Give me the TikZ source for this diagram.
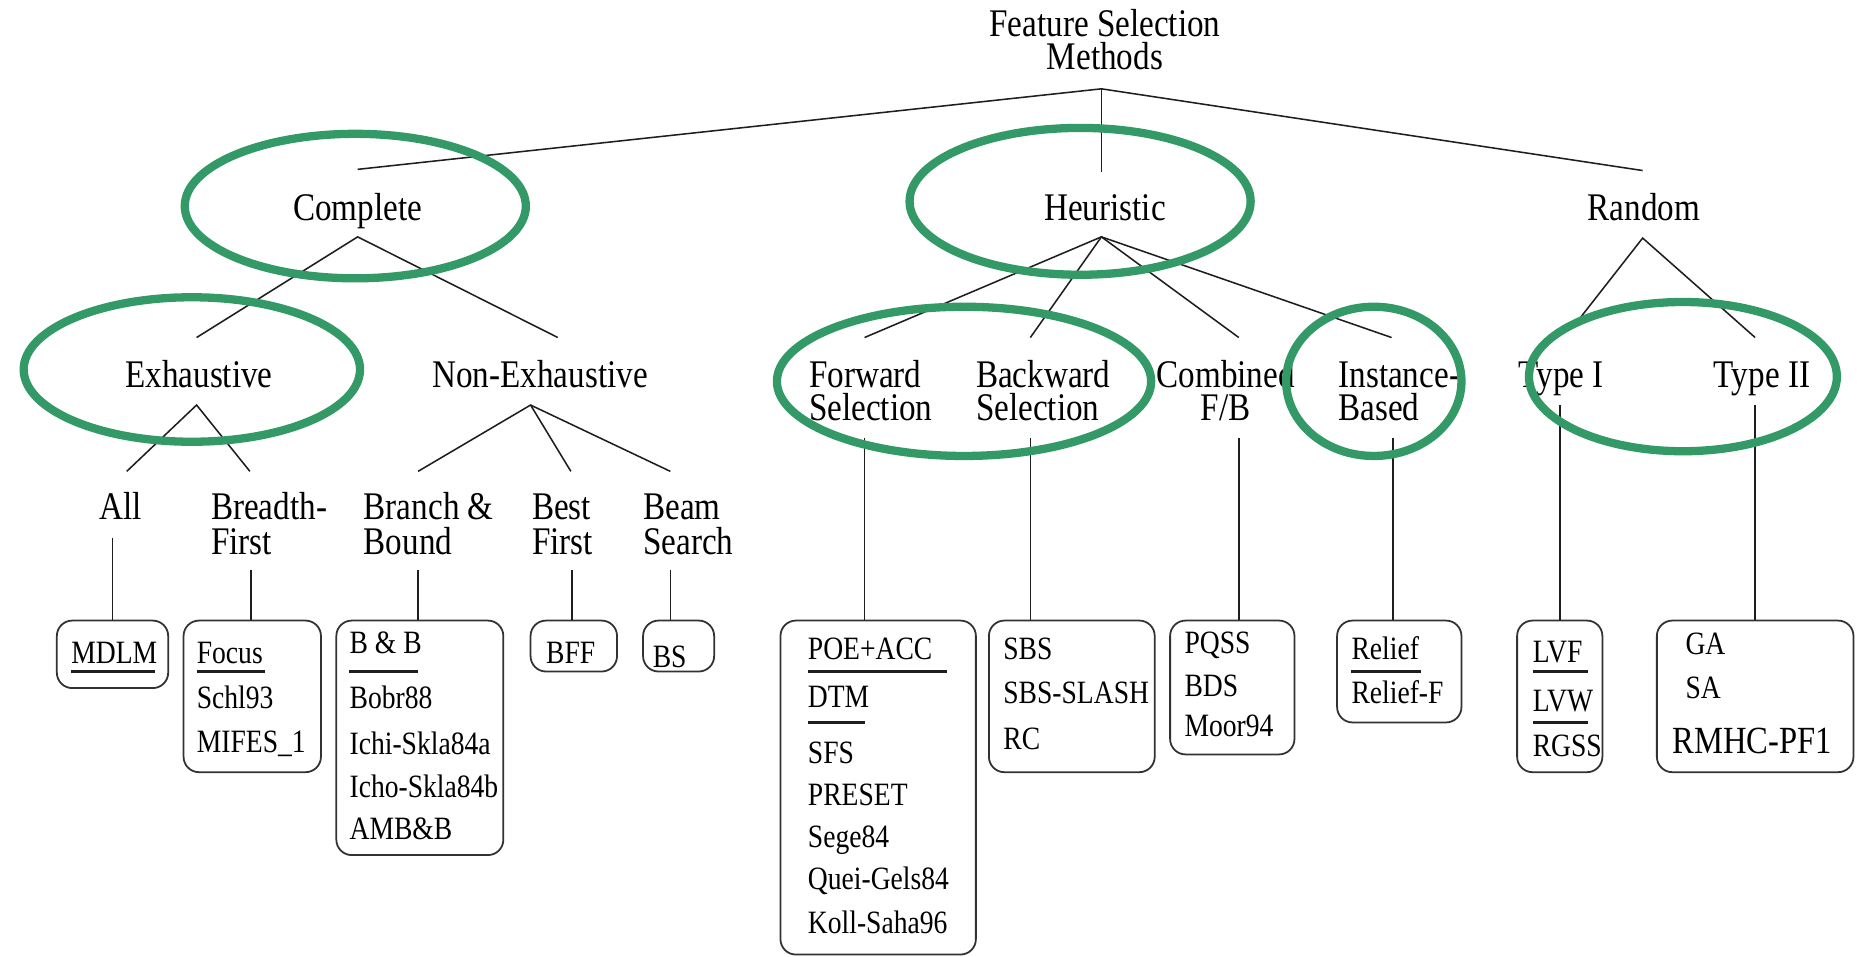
\documentclass[tikz,border=0pt]{standalone}
\usepackage{fontspec}
\setmainfont{Liberation Serif}
\usepackage{graphicx}
\definecolor{hlgreen}{RGB}{51,153,102}
\definecolor{linec}{RGB}{30,30,30}
\definecolor{boxc}{RGB}{50,50,50}
\newcommand{\sy}[1]{\scalebox{1}[1.18]{#1}}
\begin{document}
\begin{tikzpicture}[x=1pt,y=-1pt,
  lbl/.style={inner sep=0pt, font=\fontsize{28}{29}\selectfont, text=black},
  btxt/.style={inner sep=0pt, font=\fontsize{23.3}{25}\selectfont, text=black, anchor=base west},
  bigtxt/.style={inner sep=0pt, font=\fontsize{27.5}{29}\selectfont, text=black, anchor=base west},
  box/.style={draw=boxc, line width=1.5pt, rounded corners=13pt, inner sep=0pt},
  conn/.style={draw=linec, line width=1.3pt},
  uline/.style={draw=linec, line width=2.2pt},
  hl/.style={draw=hlgreen, line width=7pt}]
\useasboundingbox (0,0) rectangle (1568,808);

% ---------- labels ----------
\node[lbl, anchor=base] (root1) at (933,30.5) {\sy{Feature Selection}};
\node[lbl, anchor=base] (root2) at (933,59) {\sy{Methods}};
\node[lbl, anchor=base] (complete) at (302,186) {\sy{Complete}};
\node[lbl, anchor=base] (heuristic) at (933,186) {\sy{Heuristic}};
\node[lbl, anchor=base] (random) at (1388,186) {\sy{Random}};
\node[lbl, anchor=base] (exhaustive) at (168,327) {\sy{Exhaustive}};
\node[lbl, anchor=base] (nonexh) at (456,327) {\sy{Non-Exhaustive}};
\node[lbl, anchor=base west] (all) at (84,439) {\sy{All}};
\node[lbl, anchor=base west] (breadth1) at (178,439) {\sy{Breadth-}};
\node[lbl, anchor=base west] (breadth2) at (178,468) {\sy{First}};
\node[lbl, anchor=base west] (branch1) at (307,439) {\sy{Branch \&}};
\node[lbl, anchor=base west] (branch2) at (307,468) {\sy{Bound}};
\node[lbl, anchor=base west] (best1) at (449,439) {\sy{Best}};
\node[lbl, anchor=base west] (best2) at (449,468) {\sy{First}};
\node[lbl, anchor=base west] (beam1) at (543,439) {\sy{Beam}};
\node[lbl, anchor=base west] (beam2) at (543,468) {\sy{Search}};
\node[lbl, anchor=base west] (fwd1) at (683,327) {\sy{Forward}};
\node[lbl, anchor=base west] (fwd2) at (683,355) {\sy{Selection}};
\node[lbl, anchor=base west] (bwd1) at (824,327) {\sy{Backward}};
\node[lbl, anchor=base west] (bwd2) at (824,355) {\sy{Selection}};
\node[lbl, anchor=base] (comb1) at (1035,327) {\sy{Combined}};
\node[lbl, anchor=base] (comb2) at (1035,355) {\sy{F/B}};
\node[lbl, anchor=base west] (inst1) at (1130,327) {\sy{Instance-}};
\node[lbl, anchor=base west] (inst2) at (1130,355) {\sy{Based}};
\node[lbl, anchor=base west] (type1) at (1282,327) {\sy{Type I}};
\node[lbl, anchor=base west] (type2) at (1447,327) {\sy{Type II}};

% ---------- boxes ----------
\node[box, minimum width=94pt, minimum height=57pt] (mdlm) at (95,552.5) {};
\node[box, minimum width=116pt, minimum height=128pt] (focus) at (213,588) {};
\node[box, minimum width=141pt, minimum height=198pt] (bb) at (354.5,623) {};
\node[box, minimum width=73pt, minimum height=43pt] (bff) at (484.5,545.5) {};
\node[box, minimum width=60pt, minimum height=43pt] (bs) at (573,545.5) {};
\node[box, minimum width=165pt, minimum height=282pt] (poe) at (741.5,665) {};
\node[box, minimum width=140pt, minimum height=128pt] (sbs) at (905,588) {};
\node[box, minimum width=105pt, minimum height=113pt] (pqss) at (1040.5,580.5) {};
\node[box, minimum width=105pt, minimum height=86pt] (relief) at (1181.5,567) {};
\node[box, minimum width=72pt, minimum height=128pt] (lvf) at (1317,588) {};
\node[box, minimum width=166pt, minimum height=128pt] (ga) at (1482,588) {};

% ---------- box texts ----------
\node[btxt] (t-mdlm) at (60,560) {\sy{MDLM}};
\draw[uline] (60,567) -- (131,567);
\node[btxt] (t-focus) at (166,560) {\sy{Focus}};
\draw[uline] (166,567) -- (224,567);
\node[btxt] (t-schl) at (166,598) {\sy{Schl93}};
\node[btxt] (t-mifes) at (166,635) {\sy{MIFES\_1}};
\node[btxt] (t-bb) at (295,552) {\sy{B \& B}};
\draw[uline] (295,567) -- (353,567);
\node[btxt] (t-bobr) at (295,598) {\sy{Bobr88}};
\node[btxt] (t-ichi) at (295,637) {\sy{Ichi-Skla84a}};
\node[btxt] (t-icho) at (295,673) {\sy{Icho-Skla84b}};
\node[btxt] (t-amb) at (295,709) {\sy{AMB\&B}};
\node[btxt] (t-bff) at (461,560) {\sy{BFF}};
\node[btxt] (t-bs) at (551,564) {\sy{BS}};
\node[btxt] (t-poe) at (682,557) {\sy{POE+ACC}};
\draw[uline] (682,567) -- (800,567);
\node[btxt] (t-dtm) at (682,597) {\sy{DTM}};
\draw[uline] (682,610) -- (730,610);
\node[btxt] (t-sfs) at (682,645) {\sy{SFS}};
\node[btxt] (t-preset) at (682,680) {\sy{PRESET}};
\node[btxt] (t-sege) at (682,716) {\sy{Sege84}};
\node[btxt] (t-quei) at (682,751) {\sy{Quei-Gels84}};
\node[btxt] (t-koll) at (682,788) {\sy{Koll-Saha96}};
\node[btxt] (t-sbs) at (847,557) {\sy{SBS}};
\node[btxt] (t-slash) at (847,594) {\sy{SBS-SLASH}};
\node[btxt] (t-rc) at (847,633) {\sy{RC}};
\node[btxt] (t-pqss) at (1000,552) {\sy{PQSS}};
\node[btxt] (t-bds) at (1000,588) {\sy{BDS}};
\node[btxt] (t-moor) at (1000,622) {\sy{Moor94}};
\node[btxt] (t-relief) at (1141,557) {\sy{Relief}};
\draw[uline] (1141,567) -- (1200,567);
\node[btxt] (t-relieff) at (1141,594) {\sy{Relief-F}};
\node[btxt] (t-lvf) at (1294,559) {\sy{LVF}};
\draw[uline] (1294,567) -- (1341,567);
\node[btxt] (t-lvw) at (1294,601) {\sy{LVW}};
\draw[uline] (1294,610) -- (1341,610);
\node[btxt] (t-rgss) at (1294,639) {\sy{RGSS}};
\node[btxt] (t-ga) at (1423,553) {\sy{GA}};
\node[btxt] (t-sa) at (1423,590) {\sy{SA}};
\node[bigtxt] (t-rmhc) at (1412,636) {\sy{RMHC-PF1}};

% ---------- connection points ----------
\coordinate (rootB) at (930,75);
\coordinate (completeT) at (302,143);
\coordinate (heurT) at (930,145);
\coordinate (randomT) at (1387,144);
\coordinate (completeB) at (302,200);
\coordinate (exhT) at (166,285);
\coordinate (nonexhT) at (471,285);
\coordinate (exhB) at (166,342);
\coordinate (allT) at (107,398);
\coordinate (breadthT) at (211,398);
\coordinate (nonexhB) at (448,342);
\coordinate (branchT) at (353,398);
\coordinate (bestT) at (482,398);
\coordinate (beamT) at (566,398);
\coordinate (heurB) at (930,200);
\coordinate (fwdT) at (730,285);
\coordinate (bwdT) at (870,285);
\coordinate (combT) at (1046,285);
\coordinate (instT) at (1175,285);
\coordinate (randomB) at (1387,201);
\coordinate (type1T) at (1333,270);
\coordinate (type2T) at (1482,285);
\coordinate (allB) at (95,454);
\coordinate (breadthB) at (212,481);
\coordinate (branchB) at (353,481);
\coordinate (bestB) at (483,481);
\coordinate (beamB) at (566,481);
\coordinate (fwdB) at (730,370);
\coordinate (bwdB) at (870,370);
\coordinate (combB) at (1046,370);
\coordinate (instB) at (1176,370);
\coordinate (type1B) at (1317,342);
\coordinate (type2B) at (1482,342);

% ---------- connectors ----------
\draw[conn] (completeT) -- (rootB) -- (randomT);
\draw[conn] (rootB) -- (heurT);
\draw[conn] (exhT) -- (completeB) -- (nonexhT);
\draw[conn] (allT) -- (exhB) -- (breadthT);
\draw[conn] (branchT) -- (nonexhB) -- (beamT);
\draw[conn] (nonexhB) -- (bestT);
\draw[conn] (fwdT) -- (heurB) -- (instT);
\draw[conn] (bwdT) -- (heurB) -- (combT);
\draw[conn] (type1T) -- (randomB) -- (type2T);
\draw[conn] (allB) -- (allB |- mdlm.north);
\draw[conn] (breadthB) -- (breadthB |- focus.north);
\draw[conn] (branchB) -- (branchB |- bb.north);
\draw[conn] (bestB) -- (bestB |- bff.north);
\draw[conn] (beamB) -- (beamB |- bs.north);
\draw[conn] (fwdB) -- (fwdB |- poe.north);
\draw[conn] (bwdB) -- (bwdB |- sbs.north);
\draw[conn] (combB) -- (combB |- pqss.north);
\draw[conn] (instB) -- (instB |- relief.north);
\draw[conn] (type1B) -- (type1B |- lvf.north);
\draw[conn] (type2B) -- (type2B |- ga.north);

% ---------- green highlight ellipses ----------
\draw[hl] (300,174) ellipse [x radius=144, y radius=61];
\draw[hl] (912,170) ellipse [x radius=144, y radius=62];
\draw[hl] (162,312) ellipse [x radius=142, y radius=61];
\draw[hl] (814,322) ellipse [x radius=158, y radius=63];
\draw[hl] (1160,322) ellipse [x radius=74, y radius=63];
\draw[hl] (1421,318) ellipse [x radius=130, y radius=63];
\end{tikzpicture}
\end{document}
